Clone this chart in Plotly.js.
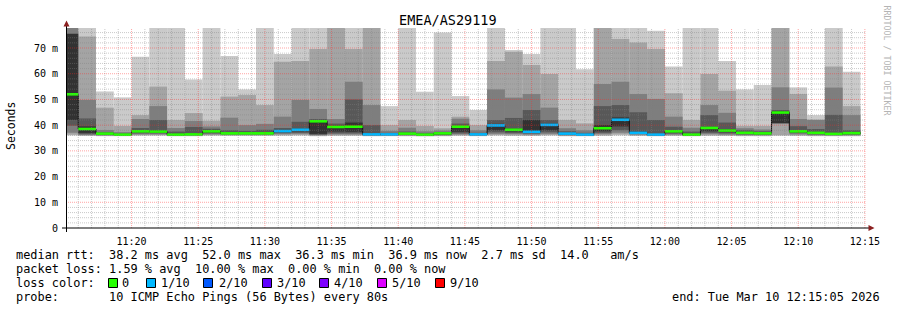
<!DOCTYPE html>
<html><head><meta charset="utf-8">
<script src="https://cdn.plot.ly/plotly-3.0.1.min.js"></script>
<style>html,body{margin:0;padding:0;background:#fff;}#chart{width:897px;height:310px;}</style>
</head><body><div id="chart"></div>
<script>
// ---- data ----
const periodStart = [
 '2026-03-10 11:14:40','2026-03-10 11:16:00','2026-03-10 11:17:20','2026-03-10 11:18:40','2026-03-10 11:20:00',
 '2026-03-10 11:21:20','2026-03-10 11:22:40','2026-03-10 11:24:00','2026-03-10 11:25:20','2026-03-10 11:26:40',
 '2026-03-10 11:28:00','2026-03-10 11:29:20','2026-03-10 11:30:40','2026-03-10 11:32:00','2026-03-10 11:33:20',
 '2026-03-10 11:34:40','2026-03-10 11:36:00','2026-03-10 11:37:20','2026-03-10 11:38:40','2026-03-10 11:40:00',
 '2026-03-10 11:41:20','2026-03-10 11:42:40','2026-03-10 11:44:00','2026-03-10 11:45:20','2026-03-10 11:46:40',
 '2026-03-10 11:48:00','2026-03-10 11:49:20','2026-03-10 11:50:40','2026-03-10 11:52:00','2026-03-10 11:53:20',
 '2026-03-10 11:54:40','2026-03-10 11:56:00','2026-03-10 11:57:20','2026-03-10 11:58:40','2026-03-10 12:00:00',
 '2026-03-10 12:01:20','2026-03-10 12:02:40','2026-03-10 12:04:00','2026-03-10 12:05:20','2026-03-10 12:06:40',
 '2026-03-10 12:08:00','2026-03-10 12:09:20','2026-03-10 12:10:40','2026-03-10 12:12:00','2026-03-10 12:13:20'];
const stepSeconds = 80;
// sorted ping RTTs (ms), ping1 = fastest ... ping10 = slowest
const ping1 = [36.0,35.8,35.7,35.7,35.9,35.9,35.7,35.7,35.9,35.8,35.8,35.8,35.9,35.9,35.7,35.8,35.8,35.7,35.7,35.7,35.6,35.7,35.8,35.7,35.9,35.8,35.8,35.9,35.7,35.7,35.8,36.0,35.8,35.7,35.8,35.7,35.8,35.8,35.7,35.7,35.8,35.8,35.7,35.7,35.7];
const ping2 = [36.3,36.0,35.9,35.9,36.1,36.1,35.9,35.9,36.1,36.0,36.0,36.0,36.1,36.2,35.9,36.1,36.1,35.9,35.9,35.9,35.8,35.9,36.1,35.9,36.2,36.1,36.0,36.2,35.9,35.8,36.1,36.4,36.0,35.8,36.0,35.8,36.1,36.0,35.9,35.9,36.2,36.0,35.9,35.9,35.9];
const ping3 = [37.0,36.2,36.0,36.0,36.4,36.4,36.0,36.0,36.4,36.2,36.2,36.2,36.5,36.6,36.1,36.4,36.4,36.0,36.0,36.0,35.9,36.0,36.4,36.0,36.6,36.5,36.3,36.6,36.0,35.9,36.5,37.0,36.3,35.9,36.3,35.9,36.5,36.3,36.1,36.1,40.6,36.4,36.1,36.0,36.1];
const ping4 = [39.8,36.5,36.2,36.1,36.8,36.8,36.1,36.1,36.8,36.5,36.5,36.5,36.9,37.0,36.3,36.8,36.8,36.1,36.1,36.2,36.0,36.2,36.8,36.1,37.2,36.9,36.7,37.2,36.2,36.0,37.0,38.0,36.6,36.0,36.7,36.0,37.0,36.8,36.4,36.3,40.7,36.9,36.4,36.2,36.3];
const ping5 = [42.0,37.0,36.4,36.2,37.3,37.2,36.2,36.3,37.2,36.7,36.7,36.7,37.3,37.6,36.6,37.5,37.4,36.2,36.2,36.4,36.1,36.4,37.4,36.2,38.0,37.5,37.0,38.0,36.4,36.1,37.6,39.5,36.8,36.1,37.2,36.1,37.6,37.3,36.7,36.5,40.8,37.3,36.7,36.4,36.6];
const ping6 = [75.4,39.5,36.9,36.5,38.0,37.9,36.6,36.7,37.9,37.0,37.0,37.0,38.2,38.6,41.9,39.8,41.0,36.6,36.6,36.9,36.5,36.9,39.7,36.6,40.5,38.6,42.0,40.6,36.9,36.5,40.0,43.0,37.5,36.6,38.0,36.5,39.3,38.5,37.3,37.0,45.4,38.0,37.3,36.9,37.2];
const ping7 = [75.6,42.6,37.3,36.8,38.9,42.0,37.5,39.3,38.6,38.0,37.8,38.2,38.9,41.3,42.4,40.6,50.0,40.0,37.0,37.5,36.9,37.3,40.6,37.0,42.0,42.8,45.9,42.0,37.6,37.0,47.4,47.8,45.0,42.0,39.4,37.5,43.9,41.0,38.0,37.6,45.9,39.6,38.5,44.0,38.0];
const ping8 = [80.0,49.8,38.1,37.3,42.4,47.4,38.9,41.6,39.5,42.9,40.0,40.5,43.3,49.8,46.3,42.4,56.9,47.8,37.8,39.0,37.6,37.9,42.5,38.0,53.9,50.7,52.1,46.8,38.8,38.0,56.0,56.9,52.1,50.2,43.3,39.0,47.8,44.8,38.8,38.3,54.7,42.4,42.0,54.6,43.9];
const ping9 = [86.0,74.5,46.8,39.7,43.9,55.0,42.0,44.7,41.7,51.1,51.7,47.8,64.7,64.9,69.6,82.0,69.6,81.0,40.0,42.0,39.7,38.8,43.3,40.0,64.9,68.5,63.4,59.9,42.0,40.7,82.0,73.5,72.1,69.6,52.4,42.0,59.9,53.4,39.7,39.7,82.0,52.1,42.2,62.8,47.4];
const ping10 = [92.0,84.0,53.1,50.8,66.6,83.0,81.0,57.8,85.0,66.9,53.9,82.0,67.7,84.0,86.0,88.0,84.0,86.0,47.4,85.0,53.0,76.0,51.3,45.9,84.0,69.2,67.7,85.0,83.0,61.7,88.0,84.0,82.0,76.7,62.8,85.0,87.0,64.9,53.9,55.6,88.0,54.7,43.9,84.0,60.8];
const medianRtt = [52.0,38.5,36.7,36.3,37.6,37.5,36.3,36.4,37.6,36.8,36.8,36.8,37.7,38.2,41.5,39.3,39.4,36.4,36.4,36.7,36.3,36.8,39.4,36.4,39.9,38.2,37.4,40.1,36.7,36.3,38.8,42.1,37.0,36.3,37.6,36.3,38.9,37.9,37.0,36.8,44.9,37.6,37.0,36.6,36.9];
const lostPings = [0,0,0,0,0,0,0,0,0,0,0,0,1,1,0,0,0,1,1,0,0,0,0,1,1,0,1,1,1,1,0,1,1,1,0,0,0,0,0,0,0,0,0,0,0];

const lossLevels = [0,1,2,3,4,5,9];
const lossLabels = ['0','1/10','2/10','3/10','4/10','5/10','9/10'];
const lossColors = ['#26ff00','#00b8ff','#0059ff','#5e00ff','#7e00ff','#dd00ff','#ff0000'];

const yTickVals = [0,10,20,30,40,50,60,70];
const yTickText = ['0','10 m','20 m','30 m','40 m','50 m','60 m','70 m'];

const chartTitle = 'EMEA/AS29119';
const yTitle = 'Seconds';
const statRtt  = 'median rtt:  38.2 ms avg  52.0 ms max  36.3 ms min  36.9 ms now  2.7 ms sd  14.0   am/s';
const statLoss = 'packet loss: 1.59 % avg  10.00 % max  0.00 % min  0.00 % now';
const lossHead = 'loss color:';
const probeTxt = 'probe:       10 ICMP Echo Pings (56 Bytes) every 80s';
const endTxt   = 'end: Tue Mar 10 12:15:05 2026';
const watermark = 'RRDTOOL / TOBI OETIKER';
const xStart = '2026-03-10 11:15:05', xEnd = '2026-03-10 12:15:05';

// ---- drawing ----
const MONO = 'DejaVu Sans Mono, monospace';
const L = 66, R = 866, T = 28, B = 228;
const ax = p => (p - L) / (R - L);
const ay = p => (B - p) / (B - T);
const toMs = s => Date.parse(s.replace(' ', 'T') + 'Z');
const xs = periodStart.map(toMs);
const stepMs = stepSeconds * 1000;

const traces = [];
const smoke = [[ping1, ping10, '#cacaca'], [ping2, ping9, '#a4a4a4'], [ping3, ping8, '#7e7e7e'], [ping4, ping7, '#585858'], [ping5, ping6, '#323232']];
smoke.forEach(([lo, hi, col]) => {
  traces.push({type: 'bar', x: xs, base: lo, y: hi.map((h, i) => h - lo[i]), width: xs.map(() => stepMs), offset: 0,
    marker: {color: col, line: {width: 0}}, hoverinfo: 'skip'});
});
// thin dark median step line
traces.push({type: 'scatter', mode: 'lines', x: xs.concat([xs[xs.length - 1] + stepMs]),
  y: medianRtt.concat([medianRtt[medianRtt.length - 1]]), line: {shape: 'hv', color: '#111', width: 1}, hoverinfo: 'skip'});
// loss-coloured median segments
lossLevels.forEach((lv, k) => {
  const sx = [], sy = [];
  medianRtt.forEach((m, i) => { if (lostPings[i] === lv) { sx.push(xs[i], xs[i] + stepMs, null); sy.push(m, m, null); } });
  if (sx.length) traces.push({type: 'scatter', mode: 'lines', x: sx, y: sy, line: {color: lossColors[k], width: 2.6}, hoverinfo: 'skip', connectgaps: false});
});

const shapes = [];
// grid on top of the smoke (dotted)
const minorCol = 'rgba(128,128,128,0.42)', majorCol = 'rgba(255,40,40,0.42)';
const t0 = toMs('2026-03-10 11:16:00');
for (let m = 0; m < 60; m++) {
  const t = t0 + m * 60000;
  const major = ((16 + m) % 5) === 0;
  shapes.push({type: 'line', layer: 'above', xref: 'x', yref: 'paper', x0: t, x1: t, y0: 0, y1: 1,
    line: {color: major ? majorCol : minorCol, width: 1, dash: '1px,1px'}});
}
for (let v = 2; v <= 76; v += 2) {
  const major = v % 10 === 0;
  shapes.push({type: 'line', layer: 'above', xref: 'paper', yref: 'y', x0: 0, x1: 1, y0: v, y1: v,
    line: {color: major ? majorCol : minorCol, width: 1, dash: '1px,1px'}});
}
// axes + arrows
shapes.push({type: 'line', layer: 'above', xref: 'paper', yref: 'paper', x0: ax(62), x1: ax(869), y0: ay(228), y1: ay(228), line: {color: '#000', width: 1}});
shapes.push({type: 'line', layer: 'above', xref: 'paper', yref: 'paper', x0: ax(66.5), x1: ax(66.5), y0: ay(232), y1: ay(24), line: {color: '#000', width: 1}});
const arrowCol = '#8c2020';
shapes.push({type: 'path', layer: 'above', xref: 'paper', yref: 'paper',
  path: `M ${ax(868.5)} ${ay(225)} L ${ax(874.5)} ${ay(228)} L ${ax(868.5)} ${ay(231)} Z`, fillcolor: arrowCol, line: {width: 0}});
shapes.push({type: 'path', layer: 'above', xref: 'paper', yref: 'paper',
  path: `M ${ax(63.5)} ${ay(26.5)} L ${ax(66.5)} ${ay(20.5)} L ${ax(69.5)} ${ay(26.5)} Z`, fillcolor: arrowCol, line: {width: 0}});

const annotations = [];
const nb = s => s.replace(/ /g, '\u00a0');
function txt(str, px, py, extra) {
  annotations.push(Object.assign({xref: 'paper', yref: 'paper', x: ax(px), y: ay(py), text: nb(str), showarrow: false,
    xanchor: 'left', yanchor: 'middle', borderpad: 0, font: {family: MONO, size: 11.9, color: '#000'}}, extra || {}));
}
txt(chartTitle, 448, 20.5, {xanchor: 'center', font: {family: MONO, size: 13.5, color: '#000'}});
txt(yTitle, 11, 126, {xanchor: 'center', textangle: -90, font: {family: MONO, size: 11.5, color: '#000'}});
txt(watermark, 886.5, 60, {xanchor: 'center', textangle: 90, font: {family: MONO, size: 8.3, color: '#b4b4b4'}});
txt(statRtt, 15, 254.7);
txt(statLoss, 15, 268.7);
txt(lossHead, 15, 282.7);
txt(probeTxt, 15, 296.7);
txt(endTxt, 881, 296.7, {xanchor: 'right'});
const boxLeft = [108, 146, 203, 262, 319, 377, 435];
const labLeft = [120.5, 159.5, 217.5, 275.5, 333, 391, 449];
lossLabels.forEach((lab, k) => {
  shapes.push({type: 'rect', xref: 'paper', yref: 'paper', x0: ax(boxLeft[k] + 0.5), x1: ax(boxLeft[k] + 9.5), y0: ay(278.5), y1: ay(287.5),
    fillcolor: lossColors[k], line: {color: '#000', width: 1}});
  txt(lab, labLeft[k], 282.7);
});

const layout = {
  width: 897, height: 310, margin: {l: L, r: 897 - R, t: T, b: 310 - B, pad: 0},
  paper_bgcolor: '#ffffff', plot_bgcolor: '#ffffff', showlegend: false, barmode: 'overlay',
  xaxis: {type: 'date', range: [xStart, xEnd], tickformat: '%H:%M', tick0: '2026-03-10 11:00:00', dtick: 300000,
    showgrid: false, zeroline: false, showline: false, ticks: 'outside', ticklen: 4, tickcolor: 'rgba(0,0,0,0)',
    tickfont: {family: MONO, size: 10, color: '#000'}, fixedrange: true},
  yaxis: {range: [0, 77.78], tickmode: 'array', tickvals: yTickVals, ticktext: yTickText, showgrid: false, zeroline: false,
    showline: false, ticks: 'outside', ticklen: 5, tickcolor: 'rgba(0,0,0,0)',
    tickfont: {family: MONO, size: 10, color: '#000'}, fixedrange: true},
  shapes: shapes, annotations: annotations
};
Plotly.newPlot('chart', traces, layout, {staticPlot: true, displayModeBar: false});
</script></body></html>
